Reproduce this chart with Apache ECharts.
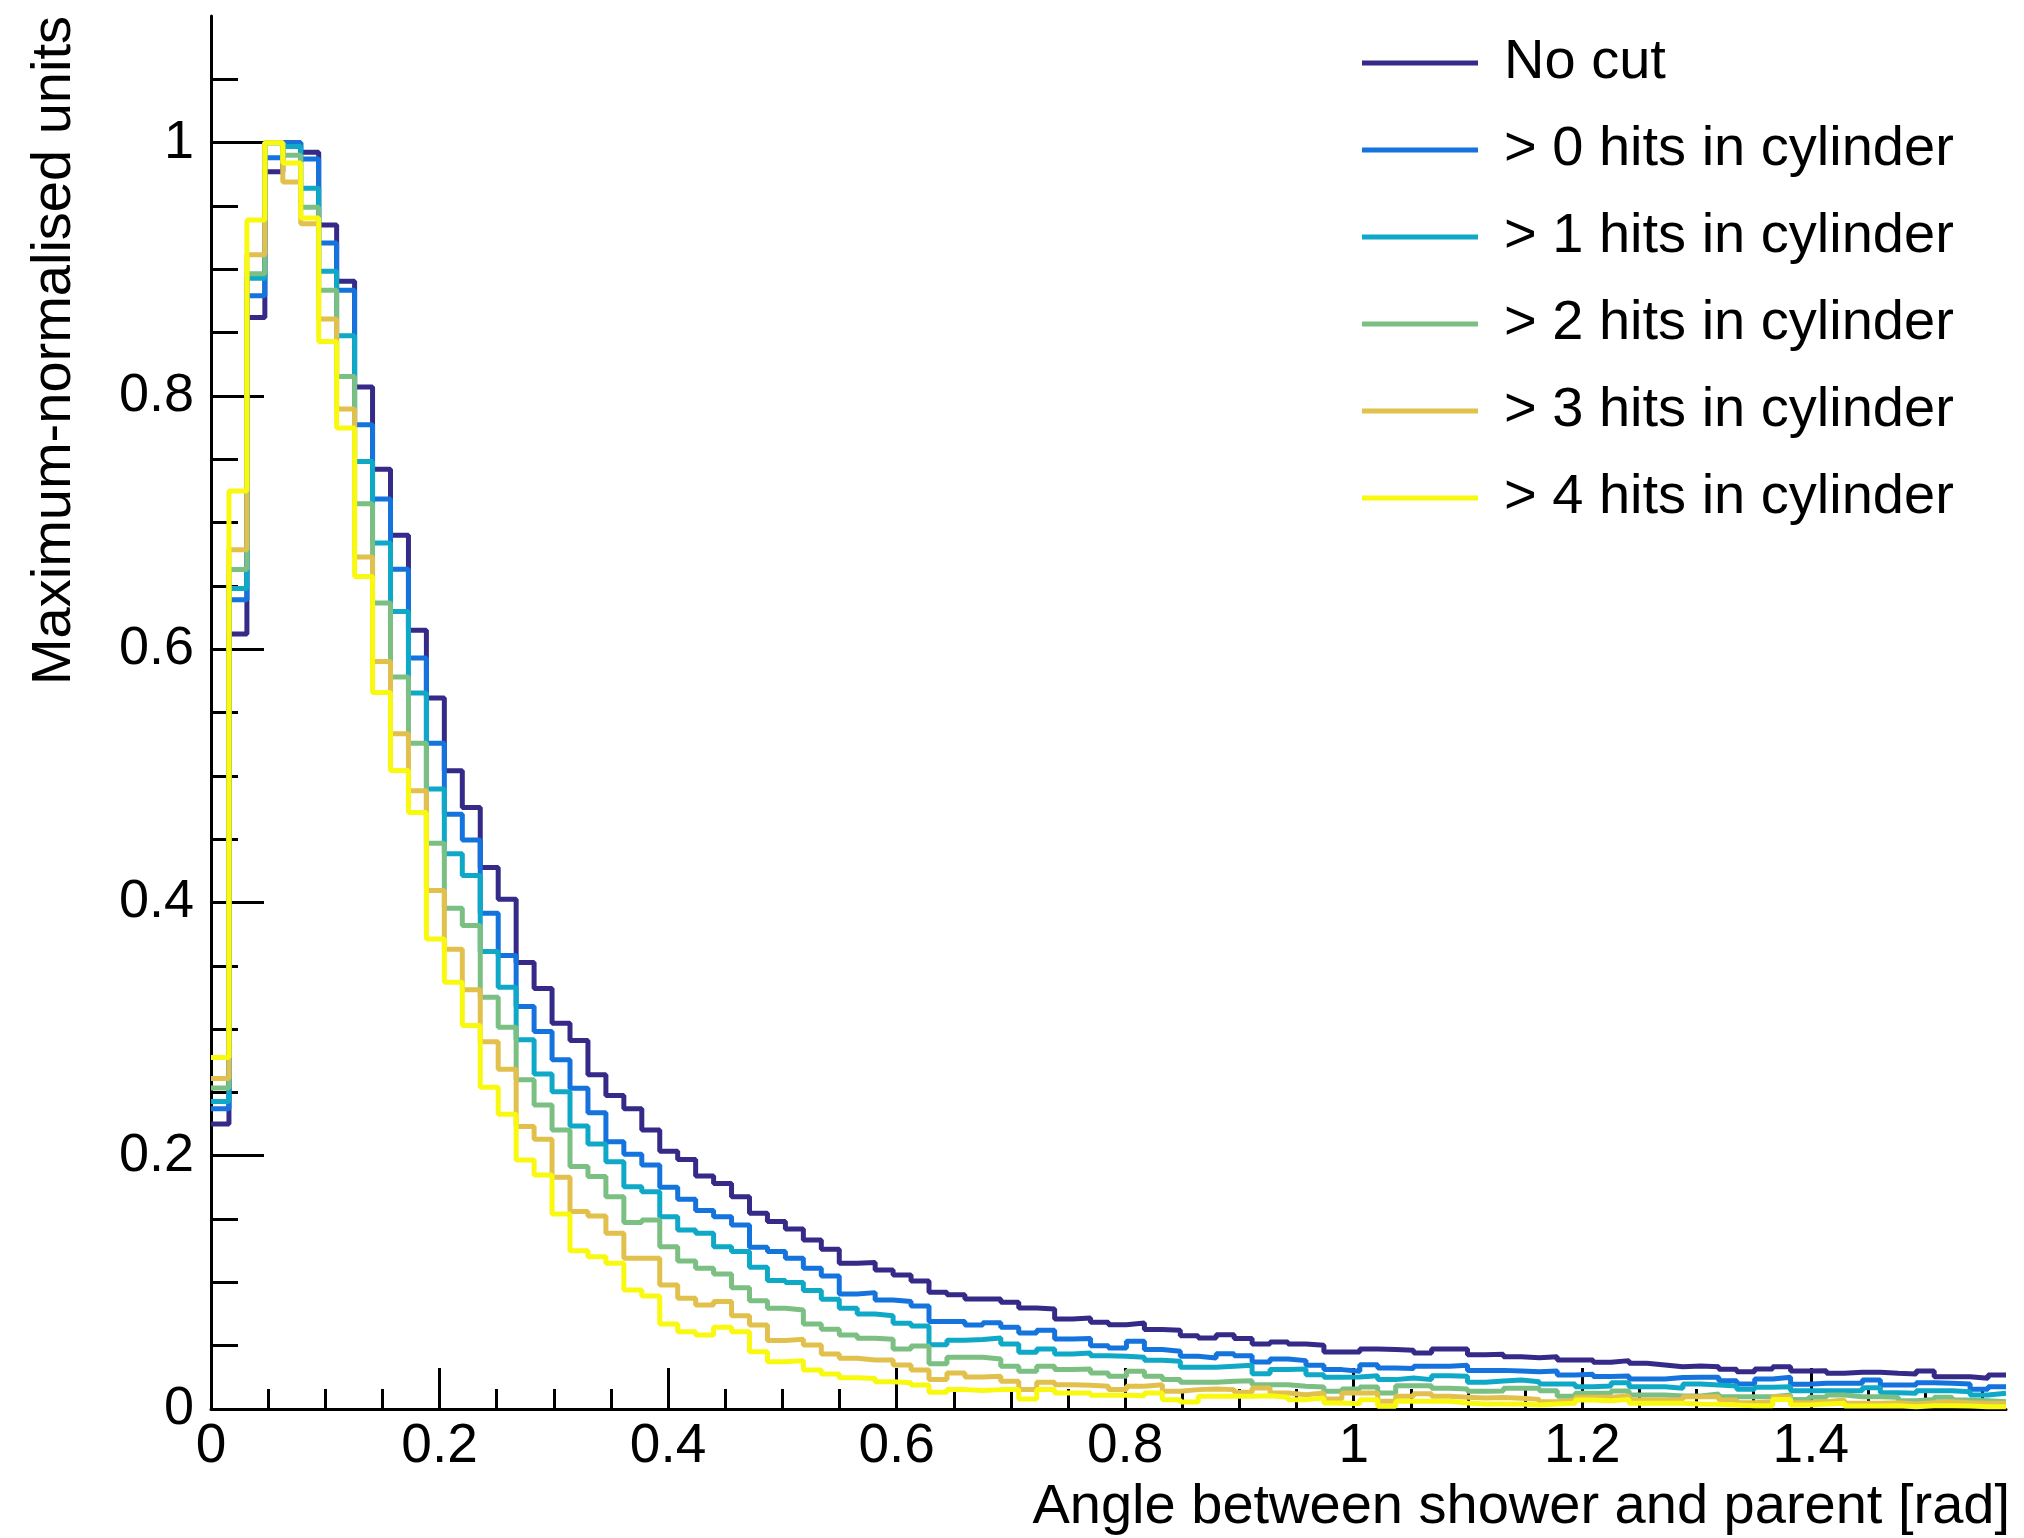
<!DOCTYPE html>
<html><head><meta charset="utf-8">
<script src="https://cdn.jsdelivr.net/npm/echarts@6/dist/echarts.min.js"></script>
<style>html,body{margin:0;padding:0;background:#fff}#chart{width:2024px;height:1538px}</style>
</head><body><div id="chart"></div>
<script>
// ---- data (maximum-normalised histograms, 100 bins of width pi/200 from 0 to pi/2) ----
const seriesNames = ['No cut', '> 0 hits in cylinder', '> 1 hits in cylinder', '> 2 hits in cylinder', '> 3 hits in cylinder', '> 4 hits in cylinder'];
const seriesColors = ['#352a87', '#1473dc', '#0fa9c7', '#7bbf83', '#e2c04c', '#f8f90f'];

const noCut = [0.225,0.612,0.862,0.977,1.0,0.9925,0.935,0.8905,0.807,0.742,
0.69,0.615,0.5614,0.504,0.475,0.4276,0.4026,0.3525,0.332,0.3046,
0.291,0.264,0.2475,0.237,0.2204,0.2036,0.197,0.184,0.178,0.1677,
0.1546,0.148,0.1422,0.1335,0.1261,0.1151,0.1156,0.1098,0.1058,0.1011,
0.0922,0.0903,0.0869,0.0869,0.0843,0.0798,0.079,0.0711,0.0719,0.0685,
0.0666,0.0679,0.0627,0.0621,0.0579,0.0561,0.0587,0.0556,0.0513,0.0529,
0.0513,0.0503,0.045,0.045,0.0474,0.0469,0.0463,0.0442,0.0474,0.0474,
0.0429,0.0432,0.0413,0.0405,0.0413,0.0387,0.0387,0.0369,0.0382,0.0361,
0.0348,0.0334,0.034,0.0334,0.0313,0.0295,0.0316,0.0334,0.03,0.0303,
0.0282,0.029,0.029,0.0282,0.0277,0.03,0.0255,0.0255,0.0242,0.0269];

const cut0 = [0.237,0.639,0.879,0.988,1.0,0.987,0.9207,0.8834,0.7773,0.7186,
0.6632,0.593,0.5258,0.4697,0.4494,0.3915,0.3581,0.3178,0.298,0.2757,
0.2533,0.234,0.2111,0.2011,0.1927,0.1751,0.1656,0.1567,0.1519,0.1453,
0.1277,0.1243,0.119,0.1111,0.1051,0.0908,0.0919,0.0861,0.0848,0.0814,
0.069,0.069,0.0664,0.0682,0.0645,0.06,0.0621,0.0553,0.0556,0.05,
0.0482,0.0535,0.0469,0.0456,0.0416,0.0403,0.0437,0.0421,0.0371,0.0395,
0.0382,0.0345,0.0311,0.0298,0.035,0.0324,0.0319,0.0337,0.0337,0.0345,
0.0305,0.0305,0.03,0.0295,0.03,0.0269,0.0274,0.0256,0.0261,0.0237,
0.0237,0.0248,0.025,0.025,0.0224,0.0198,0.0237,0.025,0.0195,0.0203,
0.0203,0.0203,0.0229,0.019,0.019,0.0208,0.0203,0.0198,0.0155,0.0176];

const cut1 = [0.2428,0.648,0.893,1.0,0.997,0.964,0.8984,0.8476,0.7483,0.6838,
0.6298,0.5653,0.4895,0.4384,0.4213,0.3612,0.333,0.2915,0.2646,0.2506,
0.2235,0.2093,0.1953,0.1756,0.1716,0.1519,0.1414,0.1388,0.1282,0.1243,
0.1119,0.1014,0.0998,0.0935,0.0866,0.0795,0.075,0.0737,0.0677,0.0656,
0.0508,0.0542,0.0548,0.0561,0.0514,0.0448,0.0474,0.0435,0.0442,0.0421,
0.0416,0.0408,0.0384,0.0377,0.0329,0.0329,0.0337,0.0345,0.0279,0.0311,
0.0316,0.0271,0.025,0.0253,0.0263,0.0232,0.0245,0.0232,0.0263,0.0258,
0.0211,0.0222,0.0229,0.0216,0.0198,0.0198,0.0176,0.0182,0.0208,0.0176,
0.0176,0.0163,0.0198,0.019,0.0182,0.0155,0.0171,0.0176,0.0145,0.0145,
0.0145,0.0145,0.0168,0.0129,0.0124,0.0145,0.0145,0.0137,0.0111,0.0124];

const cut2 = [0.2535,0.663,0.8965,1.0,0.99,0.949,0.8834,0.8154,0.7149,0.6364,
0.578,0.5258,0.4468,0.3955,0.3818,0.3252,0.3015,0.2599,0.2401,0.2204,
0.1914,0.1835,0.1677,0.1472,0.1493,0.1282,0.1169,0.1111,0.1066,0.0958,
0.0855,0.0795,0.0782,0.0671,0.063,0.0585,0.0558,0.055,0.0474,0.0498,
0.0358,0.0408,0.0408,0.0395,0.0337,0.0298,0.0337,0.0311,0.0316,0.0284,
0.0258,0.0298,0.0258,0.0232,0.0211,0.0211,0.0219,0.0224,0.0192,0.0192,
0.0179,0.0174,0.014,0.0158,0.0174,0.0126,0.0184,0.0184,0.0163,0.0158,
0.014,0.0142,0.0163,0.0163,0.0145,0.01,0.0124,0.0124,0.0142,0.0111,
0.0111,0.0103,0.0103,0.0118,0.0097,0.0097,0.0097,0.0111,0.0076,0.0092,
0.0111,0.0097,0.0097,0.0092,0.0066,0.0076,0.0092,0.0071,0.0066,0.0058];

const cut3 = [0.261,0.6785,0.9115,1.0,0.969,0.936,0.8607,0.7896,0.6727,0.5903,
0.5332,0.4882,0.4094,0.3631,0.331,0.2901,0.2683,0.223,0.213,0.183,
0.1559,0.1524,0.1388,0.119,0.119,0.0979,0.0874,0.0821,0.0848,0.0737,
0.0664,0.054,0.055,0.0506,0.0434,0.04,0.0387,0.0387,0.0348,0.0308,
0.0232,0.0284,0.0253,0.0258,0.0219,0.0153,0.0211,0.0192,0.0187,0.0179,
0.0153,0.0179,0.0192,0.014,0.0153,0.0158,0.0153,0.0132,0.0166,0.0126,
0.0113,0.0126,0.0079,0.0126,0.0126,0.0061,0.01,0.0121,0.01,0.0092,
0.0087,0.009,0.0084,0.0076,0.0058,0.0071,0.0092,0.0092,0.0103,0.0071,
0.0071,0.0076,0.0097,0.0097,0.0071,0.005,0.0058,0.0097,0.005,0.0058,
0.0071,0.0045,0.0045,0.005,0.0039,0.005,0.0058,0.005,0.0045,0.0045];

const cut4 = [0.2775,0.725,0.939,1.0,0.984,0.9405,0.843,0.7746,0.6574,0.5658,
0.5042,0.471,0.3712,0.337,0.3028,0.254,0.2328,0.1967,0.1848,0.154,
0.125,0.1203,0.1151,0.094,0.0893,0.0671,0.0611,0.0585,0.0645,0.0611,
0.0453,0.0374,0.0382,0.0308,0.0276,0.0247,0.024,0.0216,0.0208,0.019,
0.0132,0.0153,0.0147,0.0153,0.0153,0.0079,0.0153,0.0126,0.0126,0.0108,
0.0108,0.0105,0.0126,0.0074,0.0055,0.01,0.01,0.01,0.0105,0.0092,
0.0074,0.0087,0.0047,0.0042,0.0074,0.0021,0.0061,0.0061,0.0061,0.0047,
0.0039,0.0039,0.0039,0.0032,0.0039,0.0045,0.0071,0.0066,0.0076,0.0045,
0.0045,0.0045,0.0039,0.0037,0.0032,0.0026,0.0026,0.0076,0.0032,0.0039,
0.0045,0.0024,0.0024,0.0026,0.0018,0.0026,0.0026,0.0024,0.0018,0.0018];

const xTickLabels = [0, 0.2, 0.4, 0.6, 0.8, 1, 1.2, 1.4];
const yTickLabels = [0, 0.2, 0.4, 0.6, 0.8, 1];

// ---- histogram binning ----
const xMin = 0, xMax = Math.PI / 2, nBins = 100;
const binWidth = (xMax - xMin) / nBins;
const allValues = [noCut, cut0, cut1, cut2, cut3, cut4];

function minorTicks(maxV, step, majors) {
  const out = [];
  for (let i = 1; i * step <= maxV + 1e-9; i++) {
    const v = +(i * step).toFixed(4);
    if (!majors.some(m => Math.abs(m - v) < 1e-6)) out.push(v);
  }
  return out;
}
const xMinor = minorTicks(1.55, 0.05, xTickLabels);
const yMinor = minorTicks(1.05, 0.05, yTickLabels);

function histData(vals) {
  const d = vals.map((v, i) => [xMin + i * binWidth, v]);
  d.push([xMax, vals[vals.length - 1]]);
  return d;
}

const FONT = 'Liberation Sans';
const chart = echarts.init(document.getElementById('chart'), null, {renderer: 'canvas'});
const fmt = v => String(+(+v).toFixed(2));

chart.setOption({
  animation: false,
  backgroundColor: '#ffffff',
  textStyle: {fontFamily: FONT},
  grid: {left: 211, right: 18, top: 16, bottom: 129, containLabel: false, outerBoundsMode: 'none'},
  legend: {
    orient: 'vertical', left: 1362, top: 35, padding: 0, itemGap: 31,
    itemWidth: 116, itemHeight: 5, icon: 'rect',
    textStyle: {fontSize: 56, fontFamily: FONT, color: '#000', padding: [0, 0, 0, 21], lineHeight: 56},
    data: seriesNames
  },
  xAxis: [{
    type: 'value', min: xMin, max: xMax,
    name: 'Angle between shower and parent [rad]', nameLocation: 'end', nameGap: 4, nameMoveOverlap: false,
    nameTextStyle: {fontSize: 56, fontFamily: FONT, color: '#000', align: 'right', verticalAlign: 'top', padding: [71, 0, 0, 0]},
    axisLine: {show: true, onZero: false, lineStyle: {color: '#000', width: 3}},
    axisTick: {show: true, inside: true, length: 41, lineStyle: {color: '#000', width: 3}, customValues: xTickLabels},
    axisLabel: {show: true, fontSize: 55, fontFamily: FONT, color: '#000', margin: 10, formatter: fmt, customValues: xTickLabels},
    splitLine: {show: false}
  }, {
    type: 'value', min: xMin, max: xMax, position: 'bottom', gridIndex: 0,
    axisLine: {show: false},
    axisTick: {show: true, inside: true, length: 20, lineStyle: {color: '#000', width: 3}, customValues: xMinor},
    axisLabel: {show: false},
    splitLine: {show: false}
  }],
  yAxis: [{
    type: 'value', min: 0, max: 1.1, position: 'left',
    name: 'Maximum-normalised units', nameLocation: 'end', nameGap: 0, nameRotate: 90, nameMoveOverlap: false,
    nameTextStyle: {fontSize: 56, fontFamily: FONT, color: '#000', align: 'right', verticalAlign: 'bottom', padding: [0, 0, 128, 0]},
    axisLine: {show: true, onZero: false, lineStyle: {color: '#000', width: 3}},
    axisTick: {show: true, inside: true, length: 53, lineStyle: {color: '#000', width: 3}, customValues: yTickLabels},
    axisLabel: {show: true, fontSize: 54, fontFamily: FONT, color: '#000', margin: 17, formatter: fmt, customValues: yTickLabels},
    splitLine: {show: false}
  }, {
    type: 'value', min: 0, max: 1.1, position: 'left', offset: 0,
    axisLine: {show: false},
    axisTick: {show: true, inside: true, length: 27, lineStyle: {color: '#000', width: 3}, customValues: yMinor},
    axisLabel: {show: false},
    splitLine: {show: false}
  }],
  series: allValues.map((vals, i) => ({
    name: seriesNames[i], type: 'line', step: 'end',
    xAxisIndex: 0, yAxisIndex: 0,
    showSymbol: false, symbol: 'none',
    color: seriesColors[i],
    lineStyle: {color: seriesColors[i], width: 5},
    itemStyle: {color: seriesColors[i]},
    emphasis: {disabled: true},
    data: histData(vals)
  }))
});
</script></body></html>
